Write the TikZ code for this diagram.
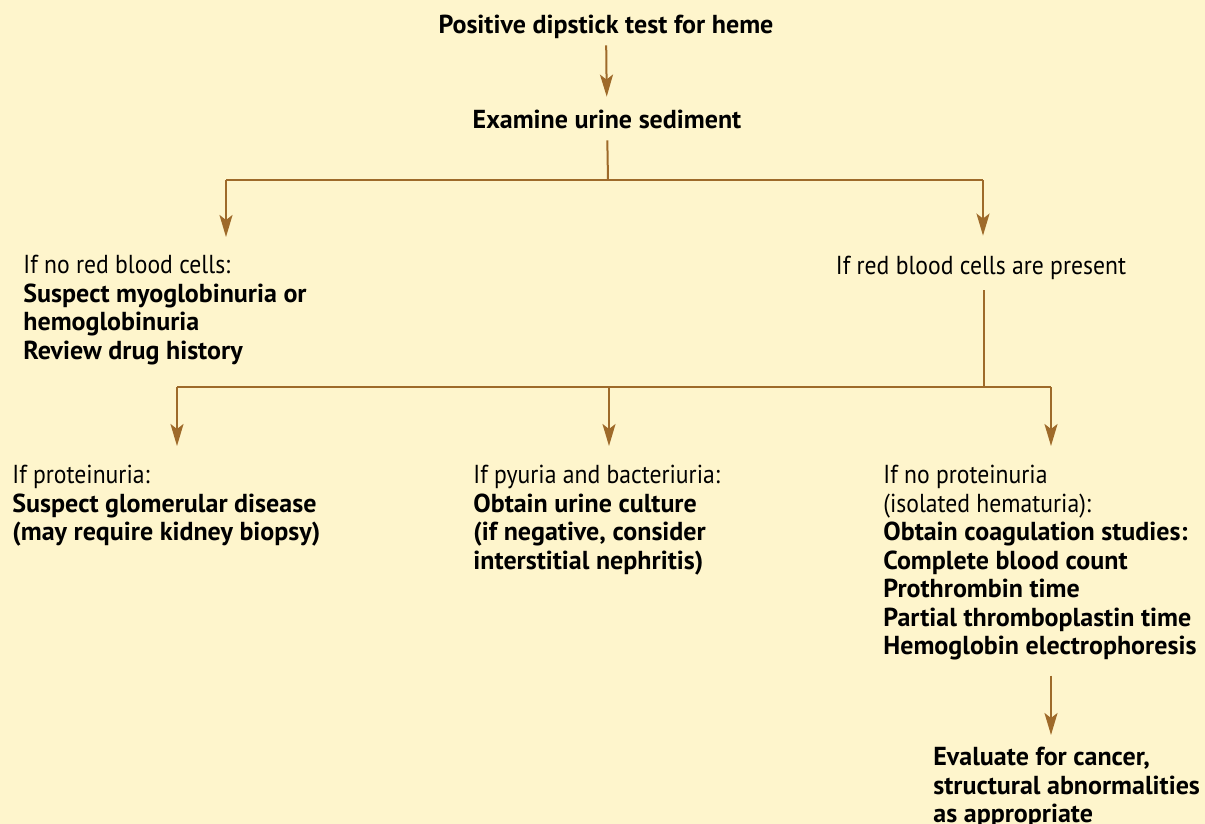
\documentclass[tikz,border=0pt]{standalone}
\usepackage{fontspec}
\setmainfont{PT Sans}[UprightFeatures={FakeStretch=0.91}, BoldFeatures={FakeStretch=1.0}]
\usetikzlibrary{arrows.meta}
\usetikzlibrary{positioning}

\definecolor{fondjaune}{RGB}{254,245,204}
\definecolor{brun}{RGB}{158,106,42}

\tikzset{
  fleche/.style={draw=brun, line width=1pt, -{Stealth[length=11pt,width=6.5pt,inset=2.5pt]}},
  trait/.style={draw=brun, line width=1pt},
  etape/.style={inner sep=0pt, text height=10pt, text depth=3pt, font=\fontsize{13}{14.25}\selectfont},
  bloc/.style={inner sep=0pt, anchor=north west, align=left, font=\fontsize{13}{14.25}\selectfont},
}

\begin{document}
\begin{tikzpicture}[x=0.5pt, y=-0.5pt]

\fill[fondjaune] (0,0) rectangle (1205,824);
\useasboundingbox (0,0) rectangle (1205,824);

%%% Depart

\node[etape] (dipstick) at (606,27) {\bfseries Positive dipstick test for heme};
\node[etape] (sediment) at (607,122) {\bfseries Examine urine sediment};

\draw[fleche, shorten <=2.5pt, shorten >=6pt] (dipstick) -- (sediment);

%%% Globules rouges ou non

\coordinate (fourche1) at (608,180);
\coordinate (gauche1) at (226,180);
\coordinate (droite1) at (983,180);

\node[bloc] (sansgr) at (23,255) {If no red blood cells:\\
\textbf{Suspect myoglobinuria or}\\
\textbf{hemoglobinuria}\\
\textbf{Review drug history}};
\node[etape] (avecgr) at (981,267) {If red blood cells are present};

\draw[trait, shorten <=2.5pt] (sediment) -- (fourche1);
\draw[trait] (gauche1) -- (droite1);
\draw[fleche, shorten >=9pt] (gauche1) -- (gauche1 |- sansgr.north);
\draw[fleche, shorten >=9pt] (droite1) -- (droite1 |- avecgr.north);

%%% Trois cas

\coordinate (fourche2) at (984,387);
\coordinate (gauche2) at (177,387);
\coordinate (milieu2) at (609,387);
\coordinate (droite2) at (1051,387);

\node[bloc] (proteinurie) at (12,465) {If proteinuria:\\
\textbf{Suspect glomerular disease}\\
\textbf{(may require kidney biopsy)}};
\node[bloc] (pyurie) at (473,465) {If pyuria and bacteriuria:\\
\textbf{Obtain urine culture}\\
\textbf{(if negative, consider}\\
\textbf{interstitial nephritis)}};
\node[bloc] (hematurie) at (883,465) {If no proteinuria\\
(isolated hematuria):\\
\textbf{Obtain coagulation studies:}\\
\textbf{Complete blood count}\\
\textbf{Prothrombin time}\\
\textbf{Partial thromboplastin time}\\
\textbf{Hemoglobin electrophoresis}};

\draw[trait, shorten <=5pt] (avecgr.south -| fourche2) -- (fourche2);
\draw[trait] (gauche2) -- (droite2);
\draw[fleche, shorten >=9.5pt] (gauche2) -- (gauche2 |- proteinurie.north);
\draw[fleche, shorten >=9.5pt] (milieu2) -- (milieu2 |- pyurie.north);
\draw[fleche, shorten >=9.5pt] (droite2) -- (droite2 |- hematurie.north);

%%% Cancer

\node[bloc] (cancer) at (933,747) {\textbf{Evaluate for cancer,}\\
\textbf{structural abnormalities}\\
\textbf{as appropriate}};

\draw[fleche, shorten <=7.5pt, shorten >=6pt] (hematurie.south -| droite2) -- (cancer.north -| droite2);

\end{tikzpicture}
\end{document}
